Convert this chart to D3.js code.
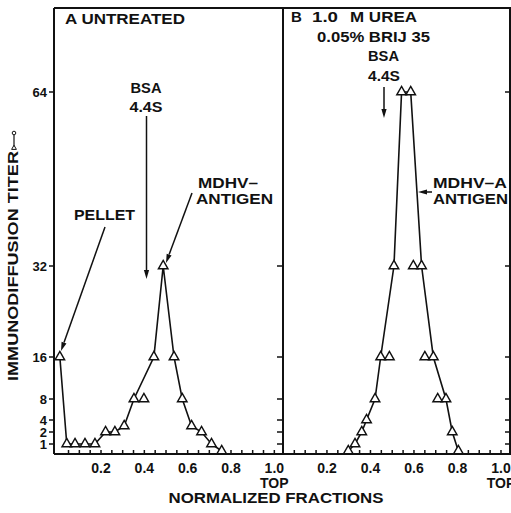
<!DOCTYPE html>
<html>
<head>
<meta charset="utf-8">
<script src="https://cdn.jsdelivr.net/npm/d3@7"></script>
<style>
  body { margin: 0; background: white; }
  text { font-family: "Liberation Sans", Arial, sans-serif; font-weight: bold; fill: #111; }
</style>
</head>
<body>
<script>
'use strict';

// A: untreated
const fracA  = [0.01, 0.042, 0.08, 0.126, 0.172, 0.221, 0.264, 0.307, 0.352, 0.398, 0.444, 0.487, 0.537, 0.575, 0.618, 0.664, 0.71, 0.757];
const titerA = [16, 1, 1, 1, 1, 2, 2, 3, 8, 8, 16, 32, 16, 8, 3, 2, 1, 0];
const offLineA = [0.398]; // replicate, not joined by the curve

// B: 1.0 M urea, 0.05% Brij 35
const fracB  = [0.298, 0.329, 0.36, 0.382, 0.421, 0.447, 0.487, 0.508, 0.543, 0.585, 0.597, 0.635, 0.65, 0.689, 0.709, 0.747, 0.776, 0.804];
const titerB = [0, 1, 2, 4, 8, 16, 16, 32, 64, 64, 32, 32, 16, 16, 8, 8, 2, 0];
const offLineB = [0.487, 0.597, 0.65, 0.709];

const titerTicks = [1, 2, 4, 8, 16, 32, 64];
const fracTicks = [0.2, 0.4, 0.6, 0.8, 1.0];

(function() {
  let width = 511;
  let height = 513;
  let axisY = 454;
  let topY = 8;

  let svg = d3.select('body')
    .append('svg')
    .attr('width', width)
    .attr('height', height);

  // titer axis is not linear in the original, low titers are stretched
  let yScale = d3.scaleLinear()
    .domain([0, 1, 2, 4, 8, 16, 32, 64])
    .range([451, 444, 432, 420, 399, 357, 266, 92]);

  let xA = d3.scaleLinear().domain([-0.017, 1.04]).range([54, 283]);
  let xB = d3.scaleLinear().domain([-0.002, 1.046]).range([283, 511]);

  let minorTicks = d3.range(1, 21).map(i => i * 0.05);

  function drawPanel(x, fr, ti, off, leftTicks, rightTickVals) {
    let pts = fr.map((f, i) => ({ f: f, t: ti[i] }));

    // x ticks (inside, pointing up)
    svg.append('g').selectAll('line')
      .data(minorTicks)
      .enter()
      .append('line')
      .attr('x1', d => x(d)).attr('x2', d => x(d))
      .attr('y1', axisY).attr('y2', axisY - 4)
      .attr('stroke', '#111').attr('stroke-width', 1.5);

    // right side ticks pointing left
    svg.append('g').selectAll('line')
      .data(rightTickVals)
      .enter()
      .append('line')
      .attr('x1', x.range()[1]).attr('x2', x.range()[1] - 6)
      .attr('y1', d => yScale(d)).attr('y2', d => yScale(d))
      .attr('stroke', '#111').attr('stroke-width', 1.5);

    if (leftTicks) {
      svg.append('g').selectAll('line')
        .data(titerTicks)
        .enter()
        .append('line')
        .attr('x1', x.range()[0] - 5).attr('x2', x.range()[0])
        .attr('y1', d => yScale(d)).attr('y2', d => yScale(d))
        .attr('stroke', '#111').attr('stroke-width', 1.5);

      svg.append('g').selectAll('text')
        .data(titerTicks)
        .enter()
        .append('text')
        .attr('x', x.range()[0] - 7)
        .attr('y', d => yScale(d) + 4.5)
        .attr('text-anchor', 'end')
        .style('font-size', '13px')
        .text(d => d);
    }

    // x tick labels
    svg.append('g').selectAll('text')
      .data(fracTicks)
      .enter()
      .append('text')
      .attr('x', d => x(d))
      .attr('y', 473)
      .attr('text-anchor', 'middle')
      .style('font-size', '14px')
      .text(d => d.toFixed(1));

    svg.append('text')
      .attr('x', x(1.0))
      .attr('y', 488)
      .attr('text-anchor', 'middle')
      .style('font-size', '14px')
      .text('TOP');

    let line = d3.line()
      .x(d => x(d.f))
      .y(d => yScale(d.t));

    svg.append('path')
      .datum(pts.filter(d => off.indexOf(d.f) < 0))
      .attr('d', line)
      .attr('fill', 'none')
      .attr('stroke', '#111')
      .attr('stroke-width', 1.6);

    svg.append('g').selectAll('path')
      .data(pts)
      .enter()
      .append('path')
      .attr('d', d3.symbol().type(d3.symbolTriangle).size(40))
      .attr('transform', d => 'translate(' + x(d.f) + ',' + yScale(d.t) + ')')
      .attr('fill', 'white')
      .attr('stroke', '#111')
      .attr('stroke-width', 1.4);
  }

  function drawFrame() {
    let frame = svg.append('g')
      .attr('stroke', '#111')
      .attr('stroke-width', 2)
      .attr('fill', 'none');
    frame.append('line').attr('x1', 54).attr('x2', 511).attr('y1', topY).attr('y2', topY);
    frame.append('line').attr('x1', 54).attr('x2', 511).attr('y1', axisY).attr('y2', axisY);
    frame.append('line').attr('x1', 54).attr('x2', 54).attr('y1', topY).attr('y2', axisY);
    frame.append('line').attr('x1', 283).attr('x2', 283).attr('y1', topY).attr('y2', axisY);
    frame.append('line').attr('x1', 510).attr('x2', 510).attr('y1', topY).attr('y2', axisY);
  }

  function arrow(x1, y1, x2, y2) {
    let ang = Math.atan2(y2 - y1, x2 - x1);
    let len = 9, half = 2.6;
    let bx = x2 - len * Math.cos(ang), by = y2 - len * Math.sin(ang);
    svg.append('line')
      .attr('x1', x1).attr('y1', y1).attr('x2', bx).attr('y2', by)
      .attr('stroke', '#111').attr('stroke-width', 1.5);
    let px = -Math.sin(ang) * half, py = Math.cos(ang) * half;
    svg.append('path')
      .attr('d', 'M' + x2 + ',' + y2 + 'L' + (bx + px) + ',' + (by + py) + 'L' + (bx - px) + ',' + (by - py) + 'Z')
      .attr('fill', '#111');
  }

  function label(str, x, y, size, len, anchor) {
    let t = svg.append('text')
      .attr('x', x)
      .attr('y', y)
      .style('font-size', size + 'px')
      .attr('text-anchor', anchor || 'start')
      .text(str);
    if (len) t.attr('textLength', len).attr('lengthAdjust', 'spacingAndGlyphs');
    return t;
  }

  function makeLabels() {
    // panel A
    label('A UNTREATED', 65, 24, 15, 120);
    label('BSA', 146, 93, 14, 31, 'middle');
    label('4.4S', 146, 112, 14, 33, 'middle');
    arrow(146.5, 116, 146.5, 279);
    label('MDHV\u2013', 198, 188, 14, 60);
    label('ANTIGEN', 196, 204, 14, 77);
    arrow(192, 193, 166, 263);
    label('PELLET', 74, 220, 14, 61);
    arrow(105, 227, 61, 351);

    // panel B
    label('B', 291, 22, 15);
    label('1.0', 312, 22, 15, 26);
    label('M UREA', 350, 22, 15, 67);
    label('0.05% BRIJ 35', 317, 42, 15, 113);
    label('BSA', 368, 61, 14, 31);
    label('4.4S', 368, 81, 14, 32);
    arrow(384, 87, 384, 118);
    label('MDHV\u2013A', 433, 188, 14, 74);
    label('ANTIGEN', 433, 204, 14, 75);
    arrow(432, 192, 418, 192);

    // axis titles
    label('NORMALIZED FRACTIONS', 276, 503, 14, 215, 'middle');

    let yt = svg.append('g').attr('transform', 'translate(18, 266)rotate(-90)');
    yt.append('text')
      .attr('x', 0)
      .attr('y', 0)
      .attr('text-anchor', 'middle')
      .attr('textLength', 230)
      .attr('lengthAdjust', 'spacingAndGlyphs')
      .style('font-size', '14px')
      .text('IMMUNODIFFUSION TITER');
    // small legend glyph: triangle joined to a circle
    yt.append('line')
      .attr('x1', 119).attr('x2', 131).attr('y1', -4).attr('y2', -4)
      .attr('stroke', '#111').attr('stroke-width', 1.2);
    yt.append('path')
      .attr('d', d3.symbol().type(d3.symbolTriangle).size(10))
      .attr('transform', 'translate(118,-4)rotate(90)')
      .attr('fill', 'white').attr('stroke', '#111').attr('stroke-width', 1);
    yt.append('circle')
      .attr('cx', 133).attr('cy', -4).attr('r', 1.8)
      .attr('fill', 'white').attr('stroke', '#111').attr('stroke-width', 1);
  }

  drawPanel(xA, fracA, titerA, offLineA, true, [1, 2, 4, 8, 16, 32]);
  drawPanel(xB, fracB, titerB, offLineB, false, titerTicks);
  drawFrame();
  makeLabels();
})();
</script>
</body>
</html>
